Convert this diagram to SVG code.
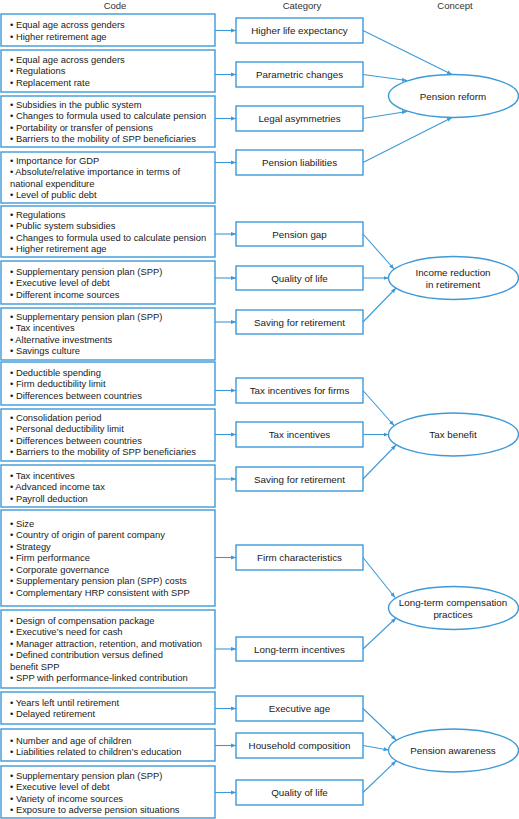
<svg xmlns="http://www.w3.org/2000/svg" width="519" height="819" viewBox="0 0 519 819">
<style>
.bx{fill:#fff;stroke:#3d9ad8;stroke-width:1.4}
.el{fill:#fff;stroke:#3d9ad8;stroke-width:1.4}
.cn line{stroke:#3d9ad8;stroke-width:1.1;marker-end:url(#ah)}
text{font-family:"Liberation Sans",Arial,sans-serif;font-size:9.4px;fill:#1a1a1a}
.c{text-anchor:middle}
.k{font-size:9.8px}
.h{font-size:9.5px;fill:#333}
</style>
<defs>
<marker id="ah" viewBox="0 0 6 6" refX="6" refY="3" markerWidth="5" markerHeight="5" orient="auto" markerUnits="userSpaceOnUse">
<path d="M0,0.5 L6,3 L0,5.5 z" fill="#3d9ad8"/>
</marker>
</defs>
<g id="headers">
<text class="h c" x="115" y="9">Code</text>
<text class="h c" x="302" y="9">Category</text>
<text class="h c" x="455" y="9">Concept</text>
</g>
<g id="code1"><rect class="bx" x="1" y="14" width="214" height="32"/>
<text x="10" y="28">• Equal age across genders</text><text x="10" y="39.5">• Higher retirement age</text></g>
<g id="code2"><rect class="bx" x="1" y="50" width="214" height="42"/>
<text x="10" y="62.5">• Equal age across genders</text><text x="10" y="74">• Regulations</text><text x="10" y="85.5">• Replacement rate</text></g>
<g id="code3"><rect class="bx" x="1" y="96" width="214" height="51"/>
<text x="10" y="107.5">• Subsidies in the public system</text><text x="10" y="119">• Changes to formula used to calculate pension</text><text x="10" y="130.5">• Portability or transfer of pensions</text><text x="10" y="142">• Barriers to the mobility of SPP beneficiaries</text></g>
<g id="code4"><rect class="bx" x="1" y="152" width="214" height="51"/>
<text x="10" y="163.5">• Importance for GDP</text><text x="10" y="175">• Absolute/relative importance in terms of</text><text x="10" y="186.5">national expenditure</text><text x="10" y="198">• Level of public debt</text></g>
<g id="code5"><rect class="bx" x="1" y="206" width="214" height="51"/>
<text x="10" y="217.5">• Regulations</text><text x="10" y="229">• Public system subsidies</text><text x="10" y="240.5">• Changes to formula used to calculate pension</text><text x="10" y="252">• Higher retirement age</text></g>
<g id="code6"><rect class="bx" x="1" y="261" width="214" height="43"/>
<text x="10" y="274.5">• Supplementary pension plan (SPP)</text><text x="10" y="286">• Executive level of debt</text><text x="10" y="297.5">• Different income sources</text></g>
<g id="code7"><rect class="bx" x="1" y="308" width="214" height="52"/>
<text x="10" y="319.5">• Supplementary pension plan (SPP)</text><text x="10" y="331">• Tax incentives</text><text x="10" y="342.5">• Alternative investments</text><text x="10" y="354">• Savings culture</text></g>
<g id="code8"><rect class="bx" x="1" y="362" width="214" height="43"/>
<text x="10" y="375.5">• Deductible spending</text><text x="10" y="387">• Firm deductibility limit</text><text x="10" y="398.5">• Differences between countries</text></g>
<g id="code9"><rect class="bx" x="1" y="409" width="214" height="52"/>
<text x="10" y="420.5">• Consolidation period</text><text x="10" y="432">• Personal deductibility limit</text><text x="10" y="443.5">• Differences between countries</text><text x="10" y="455">• Barriers to the mobility of SPP beneficiaries</text></g>
<g id="code10"><rect class="bx" x="1" y="465" width="214" height="42"/>
<text x="10" y="478.5">• Tax incentives</text><text x="10" y="490">• Advanced income tax</text><text x="10" y="501.5">• Payroll deduction</text></g>
<g id="code11"><rect class="bx" x="1" y="510" width="214" height="96"/>
<text x="10" y="526.5">• Size</text><text x="10" y="538">• Country of origin of parent company</text><text x="10" y="549.5">• Strategy</text><text x="10" y="561">• Firm performance</text><text x="10" y="572.5">• Corporate governance</text><text x="10" y="584">• Supplementary pension plan (SPP) costs</text><text x="10" y="595.5">• Complementary HRP consistent with SPP</text></g>
<g id="code12"><rect class="bx" x="1" y="610" width="214" height="78"/>
<text x="10" y="623.5">• Design of compensation package</text><text x="10" y="635">• Executive’s need for cash</text><text x="10" y="646.5">• Manager attraction, retention, and motivation</text><text x="10" y="658">• Defined contribution versus defined</text><text x="10" y="669.5">benefit SPP</text><text x="10" y="681">• SPP with performance-linked contribution</text></g>
<g id="code13"><rect class="bx" x="1" y="692" width="214" height="32"/>
<text x="10" y="705.5">• Years left until retirement</text><text x="10" y="717">• Delayed retirement</text></g>
<g id="code14"><rect class="bx" x="1" y="729" width="214" height="32"/>
<text x="10" y="743.5">• Number and age of children</text><text x="10" y="755">• Liabilities related to children’s education</text></g>
<g id="code15"><rect class="bx" x="1" y="766" width="214" height="52"/>
<text x="10" y="778.5">• Supplementary pension plan (SPP)</text><text x="10" y="790">• Executive level of debt</text><text x="10" y="801.5">• Variety of income sources</text><text x="10" y="813">• Exposure to adverse pension situations</text></g>

<g id="cat1"><rect class="bx" x="236" y="18" width="127" height="25"/><text class="c k" x="299.5" y="34">Higher life expectancy</text></g>
<g id="cat2"><rect class="bx" x="236" y="62" width="127" height="25"/><text class="c k" x="299.5" y="78">Parametric changes</text></g>
<g id="cat3"><rect class="bx" x="236" y="106" width="127" height="25"/><text class="c k" x="299.5" y="122">Legal asymmetries</text></g>
<g id="cat4"><rect class="bx" x="236" y="150" width="127" height="25"/><text class="c k" x="299.5" y="166">Pension liabilities</text></g>
<g id="cat5"><rect class="bx" x="236" y="222" width="127" height="24"/><text class="c k" x="299.5" y="237.5">Pension gap</text></g>
<g id="cat6"><rect class="bx" x="236" y="266" width="127" height="24"/><text class="c k" x="299.5" y="281.5">Quality of life</text></g>
<g id="cat7"><rect class="bx" x="236" y="310" width="127" height="24"/><text class="c k" x="299.5" y="325.5">Saving for retirement</text></g>
<g id="cat8"><rect class="bx" x="236" y="378" width="127" height="25"/><text class="c k" x="299.5" y="394">Tax incentives for firms</text></g>
<g id="cat9"><rect class="bx" x="236" y="422" width="127" height="25"/><text class="c k" x="299.5" y="438">Tax incentives</text></g>
<g id="cat10"><rect class="bx" x="236" y="467" width="127" height="24"/><text class="c k" x="299.5" y="482.5">Saving for retirement</text></g>
<g id="cat11"><rect class="bx" x="236" y="545" width="127" height="25"/><text class="c k" x="299.5" y="561">Firm characteristics</text></g>
<g id="cat12"><rect class="bx" x="236" y="637" width="127" height="24"/><text class="c k" x="299.5" y="652.5">Long-term incentives</text></g>
<g id="cat13"><rect class="bx" x="236" y="696" width="127" height="25"/><text class="c k" x="299.5" y="712">Executive age</text></g>
<g id="cat14"><rect class="bx" x="236" y="733" width="127" height="25"/><text class="c k" x="299.5" y="749">Household composition</text></g>
<g id="cat15"><rect class="bx" x="236" y="780" width="127" height="25"/><text class="c k" x="299.5" y="796">Quality of life</text></g>

<g id="concept1"><ellipse class="el" cx="453.5" cy="96" rx="65" ry="21.5"/><text class="c k" x="453" y="99.5">Pension reform</text></g>
<g id="concept2"><ellipse class="el" cx="453.5" cy="278" rx="65" ry="21.5"/><text class="c k" x="453" y="276">Income reduction</text><text class="c k" x="453" y="287.5">in retirement</text></g>
<g id="concept3"><ellipse class="el" cx="453.5" cy="434.5" rx="65" ry="21.5"/><text class="c k" x="453" y="438">Tax benefit</text></g>
<g id="concept4"><ellipse class="el" cx="453.5" cy="608" rx="65" ry="21.5"/><text class="c k" x="453" y="606">Long-term compensation</text><text class="c k" x="453" y="617.5">practices</text></g>
<g id="concept5"><ellipse class="el" cx="453.5" cy="750.5" rx="65" ry="21.5"/><text class="c k" x="453" y="754">Pension awareness</text></g>

<g id="connectors" class="cn">
<line x1="215" y1="30.5" x2="236" y2="30.5"/>
<line x1="215" y1="74.5" x2="236" y2="74.5"/>
<line x1="215" y1="118.5" x2="236" y2="118.5"/>
<line x1="215" y1="162.5" x2="236" y2="162.5"/>
<line x1="215" y1="234" x2="236" y2="234"/>
<line x1="215" y1="278" x2="236" y2="278"/>
<line x1="215" y1="322" x2="236" y2="322"/>
<line x1="215" y1="390.5" x2="236" y2="390.5"/>
<line x1="215" y1="434.5" x2="236" y2="434.5"/>
<line x1="215" y1="479" x2="236" y2="479"/>
<line x1="215" y1="557.5" x2="236" y2="557.5"/>
<line x1="215" y1="649" x2="236" y2="649"/>
<line x1="215" y1="708.5" x2="236" y2="708.5"/>
<line x1="215" y1="745.5" x2="236" y2="745.5"/>
<line x1="215" y1="792.5" x2="236" y2="792.5"/>
<line x1="363" y1="30.5" x2="452" y2="74.5"/>
<line x1="363" y1="74.5" x2="407" y2="80.5"/>
<line x1="363" y1="118.5" x2="407" y2="111.5"/>
<line x1="363" y1="162.5" x2="452" y2="117.5"/>
<line x1="363" y1="234" x2="394" y2="269"/>
<line x1="363" y1="278" x2="388.5" y2="278"/>
<line x1="363" y1="322" x2="396" y2="288"/>
<line x1="363" y1="390.5" x2="394" y2="425.5"/>
<line x1="363" y1="434.5" x2="388.5" y2="434.5"/>
<line x1="363" y1="479" x2="396" y2="445"/>
<line x1="363" y1="557.5" x2="395" y2="597.5"/>
<line x1="363" y1="649" x2="396" y2="618"/>
<line x1="363" y1="708.5" x2="396" y2="740"/>
<line x1="363" y1="745.5" x2="388.5" y2="750"/>
<line x1="363" y1="792.5" x2="396" y2="761"/>
</g>
</svg>
